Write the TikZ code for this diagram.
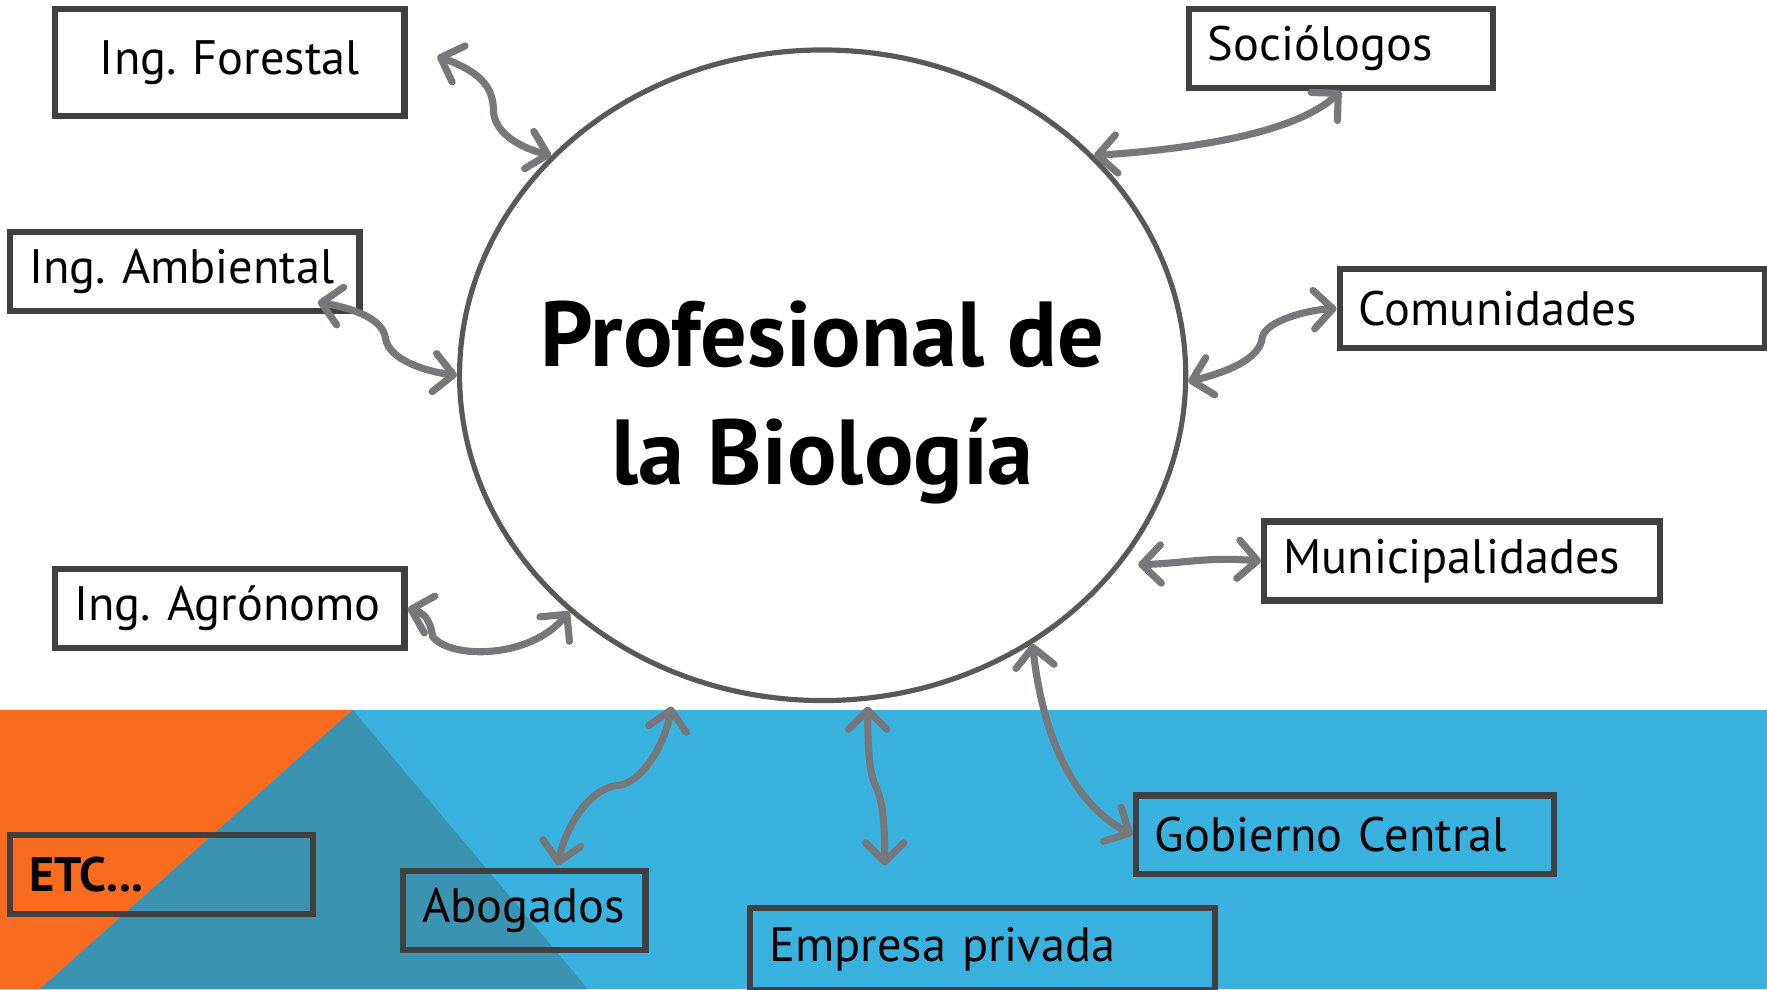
\documentclass[tikz,border=0pt]{standalone}
\usepackage{fontspec}
\setmainfont{PT Sans}
\usetikzlibrary{arrows.meta,shapes.geometric}

\definecolor{boxgray}{HTML}{404040}
\definecolor{ringgray}{HTML}{595959}
\definecolor{arrowgray}{HTML}{77787B}
\definecolor{bandblue}{HTML}{3AB2E0}
\definecolor{bandorange}{HTML}{F96B1E}
\definecolor{bandteal}{HTML}{3A94B1}

\frenchspacing
\newcommand\boxtextfont{\fontsize{12.2}{14}\selectfont}
\newcommand\biotextfont{\fontsize{23.3}{29.8}\selectfont\bfseries}

\tikzset{
	box/.style={draw=boxgray, line width=1.6pt, rectangle, minimum height=0.70cm,
		inner xsep=0.17cm, inner ysep=0pt, align=left, anchor=north west, font=\boxtextfont},
	ring/.style={draw=ringgray, line width=1.3pt, ellipse, inner sep=0pt,
		minimum width=6.44cm, minimum height=5.77cm},
	link/.style={draw=arrowgray, line width=1.8pt, line cap=round,
		>={Straight Barb[length=1.7mm, width=3.4mm, round]}, <->},
}

\begin{document}
\begin{tikzpicture}[x=0.01cm, y=-0.01cm]
	\useasboundingbox (0,0) rectangle (1568,878);
	% bottom band
	\fill[bandblue] (0,630) rectangle (1568,878);
	\fill[bandorange] (0,630) -- (313,630) -- (35,878) -- (0,878) -- cycle;
	\fill[bandteal] (313,630) -- (522,878) -- (35,878) -- cycle;
	
	% centre
	\node[ring] (bio) at (730,333) {};
	\node[font=\biotextfont, align=center] (biotext) at (730,357) {Profesional de\\la Biología};
	
	% boxes
	\node[box, text width=2.76cm, minimum height=0.95cm, align=center] (forestal) at (46,5) {Ing. Forestal};
	\node[box, text width=2.76cm] (ambiental) at (6,203) {Ing. Ambiental};
	\node[box, text width=2.76cm] (agro) at (46,502) {Ing. Agrónomo};
	\node[box, text width=2.36cm] (soc) at (1052,5) {Sociólogos};
	\node[box, text width=3.43cm] (com) at (1186,236) {Comunidades};
	\node[box, text width=3.17cm] (mun) at (1119,460) {Municipalidades};
	\node[box, text width=3.37cm] (gob) at (1005,703) {Gobierno Central};
	\node[box, text width=3.78cm, minimum height=0.73cm] (emp) at (663,803) {Empresa privada};
	\node[box, text width=1.81cm] (abog) at (355,770) {Abogados};
	\node[box, text width=2.35cm] (etc) at (6,738) {\bfseries ETC...};
	
	% free ends
	\coordinate (forestal-end) at (388,50);
	\coordinate (ambiental-end) at (282,268);
	\coordinate (mun-end) at (1010,501);
	\coordinate (emp-top) at (770,627);
	\coordinate (emp-end) at (785,768);
	\coordinate (abog-top) at (596,627);
	\coordinate (abog-end) at (495,768);
	
	% arrows
	\draw[link] (forestal-end) .. controls (430,65) and (438,80) .. (438,100)
		.. controls (440,120) and (465,132) .. (bio.141);
	\draw[link] (bio.39) .. controls (1060,132) and (1150,118) .. (soc.south);
	\draw[link] (ambiental-end) .. controls (320,275) and (340,285) .. (342,300)
		.. controls (345,320) and (380,330) .. (bio.180);
	\draw[link] (agro.east) .. controls (380,545) and (382,555) .. (384,565)
		.. controls (400,585) and (470,585) .. (bio.223);
	\draw[link] (bio.-1) .. controls (1090,330) and (1118,318) .. (1120,300)
		.. controls (1122,285) and (1160,275) .. (com.west);
	\draw[link] (mun-end) .. controls (1050,500) and (1070,494) .. (mun.west);
	\draw[link] (bio.308) .. controls (925,650) and (950,712) .. (gob.west);
	\draw[link] (emp-top) .. controls (770,670) and (772,685) .. (776,695)
		.. controls (784,712) and (785,730) .. (emp-end);
	\draw[link] (abog-top) .. controls (590,660) and (570,695) .. (548,697)
		.. controls (520,700) and (500,740) .. (abog-end);
\end{tikzpicture}
\end{document}
